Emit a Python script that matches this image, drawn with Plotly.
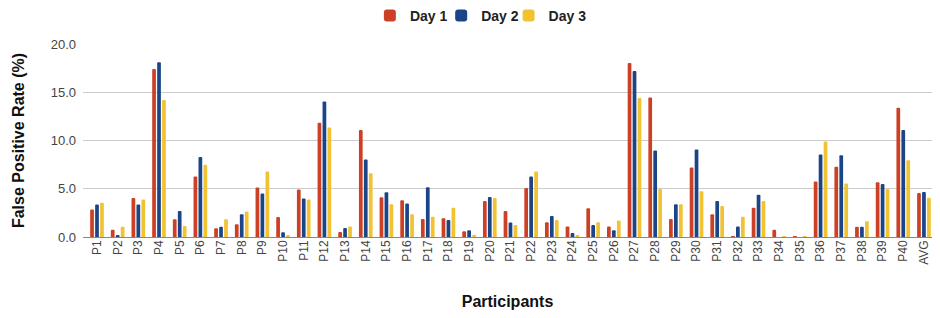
import plotly.graph_objects as go

participants = [f"P{i}" for i in range(1, 41)] + ["AVG"]

day1 = [2.84, 0.76, 4.05, 17.4, 1.83, 6.26, 0.90, 1.31, 5.12, 2.08,
        4.91, 11.83, 0.52, 11.10, 4.12, 3.80, 1.87, 1.94, 0.59, 3.74,
        2.70, 5.09, 1.52, 1.10, 2.98, 1.10, 18.03, 14.46, 1.87, 7.20,
        2.35, 0.10, 3.04, 0.76, 0.10, 5.74, 7.27, 1.07, 5.67, 13.39,
        4.57]
day2 = [3.36, 0.17, 3.36, 18.1, 2.70, 8.30, 1.07, 2.35, 4.50, 0.48,
        3.98, 14.05, 0.93, 8.03, 4.64, 3.46, 5.16, 1.76, 0.69, 4.15,
        1.49, 6.26, 2.18, 0.42, 1.25, 0.69, 17.20, 8.96, 3.39, 9.07,
        3.74, 1.10, 4.39, 0.0, 0.0, 8.55, 8.48, 1.07, 5.50, 11.10,
        4.67]
day3 = [3.56, 1.07, 3.88, 14.2, 1.14, 7.50, 1.83, 2.63, 6.78, 0.17,
        3.88, 11.35, 1.10, 6.60, 3.39, 2.35, 2.11, 3.04, 0.24, 4.05,
        1.25, 6.78, 1.76, 0.17, 1.52, 1.70, 14.40, 4.98, 3.39, 4.74,
        3.22, 2.11, 3.74, 0.07, 0.07, 9.90, 5.54, 1.63, 4.98, 7.96,
        4.08]

series = [("Day 1", day1, "#cc4125"), ("Day 2", day2, "#1c4587"), ("Day 3", day3, "#f1c232")]
legend_ids = ["legend", "legend2", "legend3"]
legend_x = [0.3379, 0.4219, 0.5013]

fig = go.Figure()
for (name, vals, col), lid in zip(series, legend_ids):
    fig.add_trace(go.Bar(x=participants, y=vals, name=f"<b>{name}</b>", legend=lid,
                         marker=dict(color=col, line=dict(width=0), cornerradius=2)))

fig.update_layout(
    width=924, height=302,
    margin=dict(l=75, r=0, t=36, b=73, autoexpand=False),
    paper_bgcolor="white", plot_bgcolor="white",
    barmode="group", bargap=0.28, bargroupgap=0.25,
    font=dict(family="Liberation Sans, Arial, sans-serif", color="#444"),
    showlegend=True,
)
for lid, lx in zip(legend_ids, legend_x):
    fig.update_layout({lid: dict(orientation="h", x=lx, xanchor="left", y=1.145, yanchor="middle",
                                 yref="paper", font=dict(size=14, color="#222"),
                                 itemwidth=30, bgcolor="rgba(0,0,0,0)")})

fig.update_xaxes(range=[-0.677, 40.39], tickangle=-90, tickfont=dict(size=12, color="#444"),
                 showgrid=False, ticks="", showline=False, automargin=False,
                 title=dict(text="<b>Participants</b>", font=dict(size=16, color="#111"), standoff=37))
fig.update_yaxes(range=[0, 20], dtick=5, tickformat=".1f", tickfont=dict(size=13, color="#444"),
                 gridcolor="#cccccc", gridwidth=1, zeroline=True, zerolinecolor="#888888",
                 zerolinewidth=1, ticks="", ticklabelstandoff=6, automargin=False,
                 title=dict(text="<b>False Positive Rate (%)</b>", font=dict(size=16, color="#111"), standoff=22))

fig.write_html("out.html")
